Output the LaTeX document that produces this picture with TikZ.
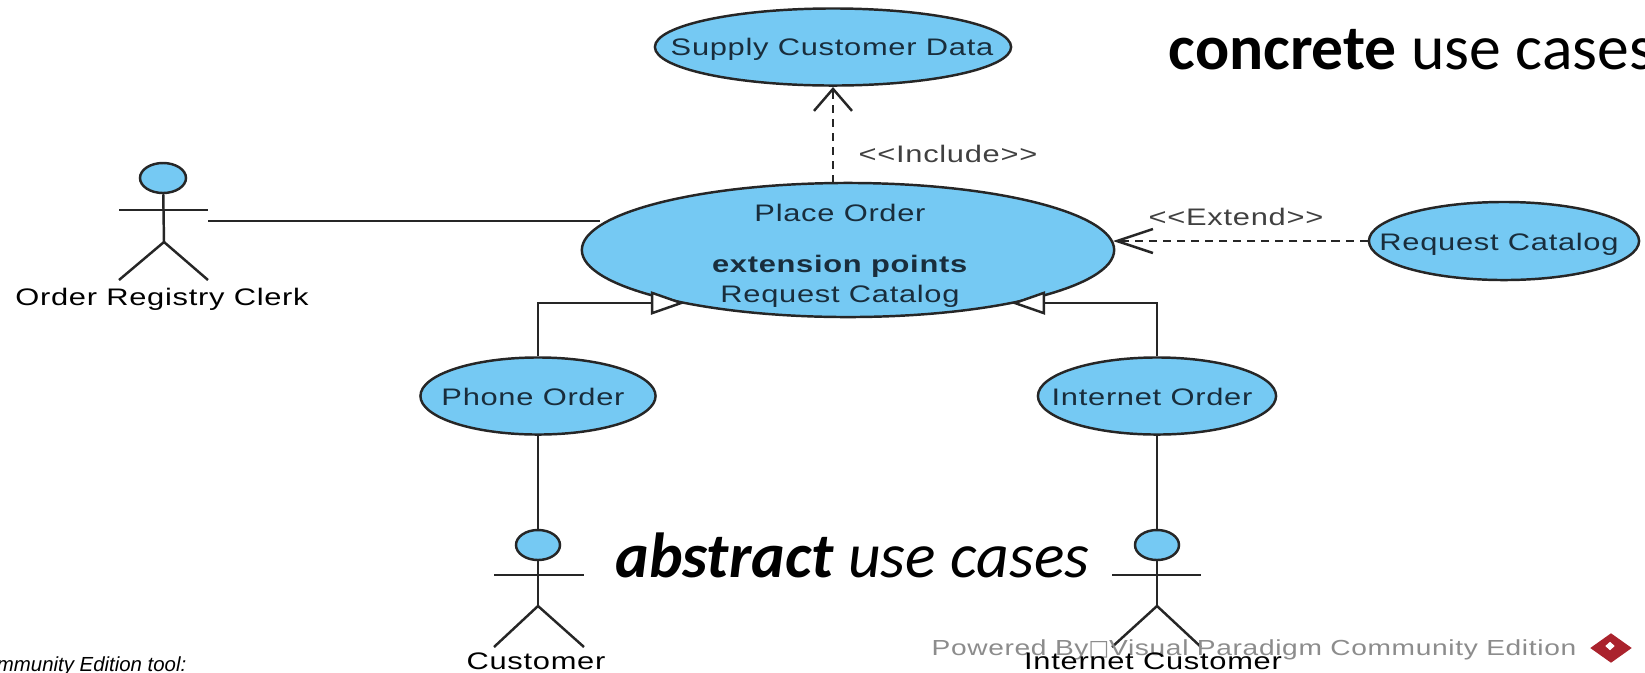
\documentclass[tikz,border=0pt]{standalone}
\usepackage{fontspec}
\setmainfont[FakeStretch=1.29,LetterSpace=3]{Liberation Sans}
\newfontfamily\slidefont{Carlito}
\newfontfamily\notefont{Liberation Sans}
\newfontfamily\boxfont{DejaVu Sans}
\usetikzlibrary{arrows.meta,shapes.geometric}
\definecolor{casefill}{RGB}{117,201,243}
\definecolor{casetext}{RGB}{25,45,60}
\definecolor{markgray}{RGB}{140,140,140}
\definecolor{markred}{RGB}{170,35,45}
\tikzset{
  usecase/.style = {draw = black!85, fill = casefill, ellipse, inner sep = 0pt, line width = 0.7pt},
  casename/.style = {font = \fontsize{6.8}{8.5}\selectfont, text = casetext, align = center, inner sep = 0pt},
  line/.style = {draw = black!85, line width = 0.7pt},
  depend/.style = {line, dash pattern = on 2.3pt off 1.7pt},
  general/.style = {line, -{Triangle[fill = white, length = 0.34cm, width = 0.23cm]}},
  slidetext/.style = {font = \slidefont\fontsize{18.1}{20}\selectfont, inner sep = 0pt}
}
\begin{document}
\begin{tikzpicture}[x = 0.01cm, y = -0.01cm]
\useasboundingbox (0, 0) rectangle (1645, 672);

\node[usecase, minimum width = 3.56cm, minimum height = 0.77cm] (supply) at (833, 47){};
\node[casename] (supplytext) at (832, 49){Supply Customer Data};
\node[usecase, minimum width = 5.32cm, minimum height = 1.34cm] (place) at (848, 250){};
\node[casename] (placetext) at (840, 256){Place Order\\[6pt]\textbf{extension points}\\Request Catalog};
\node[usecase, minimum width = 2.70cm, minimum height = 0.78cm] (catalog) at (1504, 241){};
\node[casename] (catalogtext) at (1499, 244){Request Catalog};
\node[usecase, minimum width = 2.35cm, minimum height = 0.77cm] (phone) at (538, 396){};
\node[casename] (phonetext) at (533, 397){Phone Order};
\node[usecase, minimum width = 2.38cm, minimum height = 0.77cm] (internet) at (1157, 396){};
\node[casename] (internettext) at (1152, 397){Internet Order};

% actors
\node[usecase, minimum width = 0.46cm, minimum height = 0.30cm] (clerk) at (163, 178){};
\draw[line] (clerk) -- (164, 242);
\draw[line] (119, 210) -- (208, 210);
\draw[line] (119, 280) -- (164, 242) -- (208, 280);
\node[casename, text = black] (clerktext) at (162, 299){Order Registry Clerk};

\node[usecase, minimum width = 0.44cm, minimum height = 0.30cm] (customer) at (538, 545){};
\draw[line] (customer) -- (538, 606);
\draw[line] (494, 575) -- (584, 575);
\draw[line] (494, 647) -- (538, 606) -- (584, 647);
\node[casename, text = black] (customertext) at (536, 661){Customer};

\node[usecase, minimum width = 0.44cm, minimum height = 0.30cm] (webuser) at (1157, 545){};
\draw[line] (webuser) -- (1157, 606);
\draw[line] (1112, 575) -- (1201, 575);
\draw[line] (1112, 647) -- (1157, 606) -- (1201, 647);

% connectors
\coordinate (clerkhand) at (208, 221);
\coordinate (placeleft) at (600, 221);
\coordinate (tipleft) at (685, 303);
\coordinate (tipright) at (1011, 303);
\coordinate (supplyfoot) at (833, 183);
\coordinate (supplytip) at (833, 87);
\coordinate (placetip) at (1113, 241);
\draw[line] (clerkhand) -- (placeleft);
\draw[depend, -{Straight Barb[length = 0.22cm, width = 0.38cm]}] (supplyfoot) -- (supplytip);
\draw[depend, -{Straight Barb[length = 0.36cm, width = 0.24cm]}] (catalog.west) -- (placetip);
\draw[general] (phone.north) |- (tipleft);
\draw[general] (internet.north) |- (tipright);
\draw[line] (phone.south) -- (customer.north);
\draw[line] (internet.south) -- (webuser.north);

\node[casename, text = black!75] (includetext) at (948, 154){{<}{<}Include{>}{>}};
\node[casename, text = black!75] (extendtext) at (1236, 217){{<}{<}Extend{>}{>}};

% slide text
\node[slidetext, anchor = west] (concrete) at (1168, 50){\textbf{concrete} use cases};
\node[slidetext, anchor = west] (abstract) at (615, 555){\textbf{\textit{abstract}} \textit{use cases}};
\node[anchor = east, inner sep = 0pt, font = \notefont\fontsize{5.8}{6}\selectfont\itshape] (tooltext) at (187, 666){mmunity Edition tool:};

% watermark
\node[casename, font = \fontsize{6.2}{7}\selectfont, text = markgray, anchor = west] (mark) at (931, 650){Powered By{\boxfont □}Visual Paradigm Community Edition};
\node[fill = markred, diamond, minimum width = 0.42cm, minimum height = 0.30cm, inner sep = 0pt] (logo) at (1611, 648){};
\node[fill = white, diamond, minimum width = 0.10cm, minimum height = 0.09cm, inner sep = 0pt] (logoflag) at (1610, 646){};
\node[casename, text = black] (webusertext) at (1153, 661){Internet Customer};
\end{tikzpicture}
\end{document}
